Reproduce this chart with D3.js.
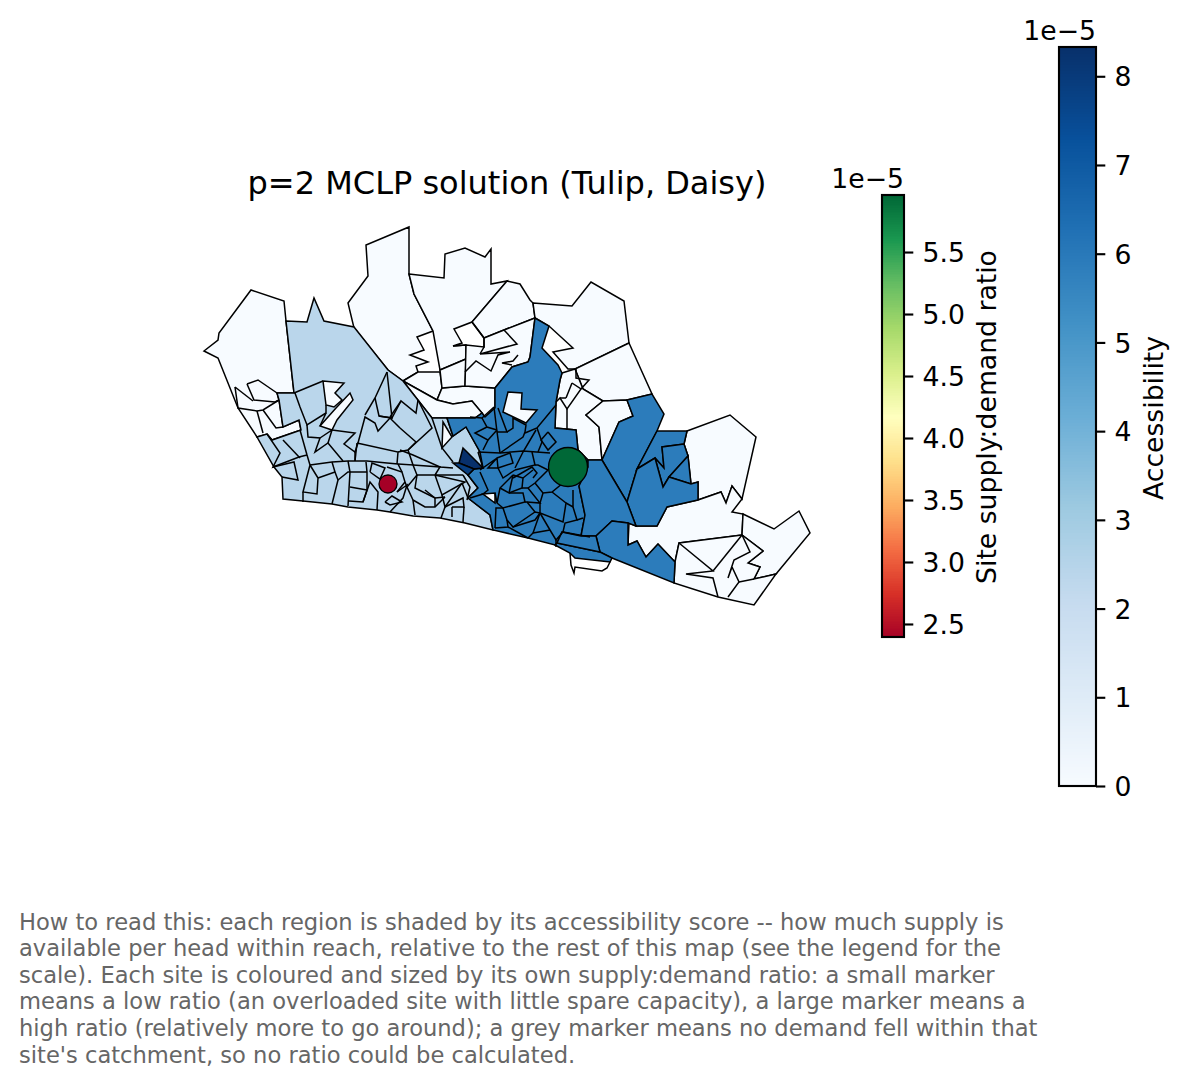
<!DOCTYPE html>
<html>
<head>
<meta charset="utf-8">
<script src="https://cdn.jsdelivr.net/npm/d3@7"></script>
<style>
body { margin: 0; background: #fff; }
text { font-family: "DejaVu Sans"; }
</style>
</head>
<body>
<div id="chart"></div>
<script>
// accessibility per region (in 1e-5) and the region outlines, in map units
var LOW = 0, WEST = 2.4, EAST = 5.9;
var regionValues = [
	LOW, LOW, LOW, LOW, LOW, LOW, LOW, LOW, LOW, LOW, LOW, LOW, LOW, LOW, LOW, LOW, LOW,
	WEST, EAST, EAST, EAST, EAST, EAST, EAST, EAST, EAST, EAST, EAST,
	LOW, LOW, LOW, LOW, LOW, 8.34, 7.9
];
var regionRings = [
	// west
	[[204,351],[218,340],[219,333],[251,290],[284,301],[286,321],[294,393],[277,393],[279,400],[283,427],[299,420],[301,430],[272,440],[267,434],[257,437],[238,408],[218,358]],
	// north
	[[348,303],[368,276],[366,245],[409,227],[409,274],[414,294],[433,331],[417,337],[424,350],[410,355],[428,362],[416,366],[418,372],[403,381],[388,370],[354,328]],
	[[409,274],[444,278],[445,254],[465,248],[485,257],[491,249],[491,284],[507,281],[472,322],[454,329],[462,343],[453,346],[466,345],[466,359],[440,370],[433,331],[414,294]],
	[[507,281],[520,284],[530,300],[533,303],[535,318],[504,330],[484,338],[472,322]],
	[[533,303],[572,306],[591,282],[624,301],[629,343],[575,369],[568,369],[553,352],[573,348],[549,326],[535,318]],
	[[629,343],[652,394],[627,400],[603,401],[583,389],[575,369]],
	[[403,381],[418,372],[440,372],[442,388],[437,400]],
	[[437,400],[442,388],[465,386],[495,388],[495,408],[485,417],[482,413],[472,401],[453,404]],
	[[440,370],[466,359],[465,386],[442,388]],
	[[466,345],[484,347],[484,338],[504,330],[535,318],[530,357],[528,362],[512,367],[495,388],[465,386]],
	[[403,381],[437,400],[453,404],[472,401],[482,413],[475,418],[447,418],[432,418]],
	// east side
	[[562,373],[575,369],[583,389],[603,401],[586,415],[599,427],[602,460],[588,460],[578,450],[576,430],[555,428],[556,402],[560,380]],
	[[603,401],[627,400],[633,416],[619,422],[602,460],[599,427],[586,415]],
	[[687,431],[730,415],[756,437],[742,499],[732,486],[726,503],[721,492],[698,500],[698,482],[691,484],[688,456],[684,444]],
	[[698,500],[721,492],[726,503],[732,486],[742,499],[732,512],[743,514],[742,535],[679,543],[675,562],[658,544],[646,557],[637,541],[628,545],[629,523],[636,526],[657,526],[667,507]],
	[[743,514],[774,529],[799,511],[810,533],[776,574],[754,579],[760,567],[748,563],[763,551],[742,535]],
	[[679,543],[742,535],[763,551],[748,563],[760,567],[754,579],[776,574],[754,605],[718,597],[674,583],[675,562]],
	// light blue west and south
	[[286,321],[307,322],[314,298],[324,321],[354,327],[388,370],[403,381],[432,418],[447,418],[453,436],[466,427],[480,452],[483,468],[474,469],[468,475],[478,488],[468,498],[490,515],[493,530],[465,523],[440,518],[413,516],[390,512],[377,510],[348,507],[332,504],[303,501],[283,499],[282,477],[274,467],[257,437],[267,434],[272,440],[301,430],[299,420],[283,427],[279,400],[277,393],[294,393]],
	// mid blue centre
	[[535,318],[549,326],[542,348],[558,365],[562,373],[560,380],[556,402],[555,428],[576,430],[578,450],[588,460],[588,467],[579,486],[585,515],[581,536],[562,532],[557,543],[555,545],[528,538],[493,530],[490,515],[468,498],[478,488],[468,475],[474,469],[483,468],[480,452],[466,427],[453,436],[447,418],[475,418],[482,413],[485,417],[495,408],[495,388],[512,367],[528,362],[530,357]],
	[[627,400],[652,394],[664,414],[657,431],[637,469],[627,502],[602,460],[619,422],[633,416]],
	[[657,431],[687,431],[684,444],[662,447],[664,468],[655,458],[637,469]],
	[[684,444],[688,456],[669,477],[663,487],[655,458],[664,468],[662,447]],
	[[688,456],[691,484],[669,477]],
	[[637,469],[655,458],[663,487],[669,477],[691,484],[698,482],[698,500],[667,507],[657,526],[636,526],[627,502]],
	[[588,460],[602,460],[627,502],[636,526],[628,523],[612,521],[596,536],[581,536],[585,515],[579,486],[588,467]],
	[[596,536],[612,521],[628,523],[628,545],[637,541],[646,557],[658,544],[675,562],[674,583],[612,558],[600,552]],
	[[557,543],[600,552],[612,558],[610,562],[575,558],[570,553],[555,545]],
	[[562,532],[581,536],[596,536],[600,552],[557,543]],
	// holes and island
	[[508,392],[522,393],[521,409],[537,410],[526,423],[503,412]],
	[[483,494],[495,493],[495,503]],
	[[323,381],[344,383],[335,393],[342,400],[334,407],[326,405]],
	[[320,426],[336,408],[350,393],[353,400],[337,420],[332,430]],
	[[443,422],[452,437],[442,448]],
	// darkest pair
	[[463,448],[483,468],[474,469],[459,463]],
	[[453,463],[459,463],[474,469],[468,475]]
];
// ward boundaries inside the zones
var wardLines = [
	[[247,384],[258,380],[277,393]], [[247,384],[254,400],[275,402],[279,400]], [[235,387],[253,401]], [[235,387],[238,408],[257,411],[263,410],[279,400]], [[257,411],[263,433]], [[263,410],[276,428],[283,427]],
	[[466,345],[453,346]], [[472,322],[484,338]], [[504,330],[517,344],[480,354],[510,352],[498,355],[491,371],[476,361],[465,372]], [[518,355],[513,361],[502,363],[512,365]], [[484,338],[484,347],[480,354]],
	[[572,383],[581,389],[567,409],[560,398],[556,402]], [[576,369],[576,378],[589,380],[581,389]], [[572,383],[566,398]], [[567,409],[567,430]], [[566,398],[560,398]],
	[[679,543],[713,571],[686,574],[713,578],[718,597]], [[742,535],[713,571]], [[742,535],[750,552],[734,560],[728,578],[732,567],[739,582],[728,597]], [[739,582],[754,579]],
	[[570,553],[571,565],[574,573],[575,567],[602,571],[607,568],[610,562]],
	// light blue zone
	[[294,393],[323,381]], [[295,393],[300,407],[307,425],[326,413],[326,405]], [[300,430],[307,455]], [[267,434],[280,453],[273,467],[299,457],[307,455]], [[283,440],[300,458]], [[273,467],[294,462],[298,480],[282,477]],
	[[307,455],[310,465],[303,492],[317,494],[318,478],[310,465]], [[303,492],[303,502]], [[310,465],[332,462],[348,461],[367,461],[387,463],[398,464]], [[318,478],[335,472],[332,462]], [[335,472],[338,480],[332,504]], [[338,480],[348,472],[367,472]], [[348,461],[350,472],[348,506]],
	[[350,487],[367,490]], [[349,501],[363,502],[367,490],[367,472],[366,462]], [[363,502],[370,482],[378,492],[377,510]], [[370,472],[372,463],[385,468],[380,479],[370,472]], [[387,467],[402,472],[405,482],[397,492]], [[397,492],[407,485],[403,498],[390,512]], [[385,502],[392,496],[402,502],[390,505],[385,502]],
	[[357,443],[398,452],[397,464]], [[357,443],[355,461]], [[398,452],[408,450],[416,442],[400,428]], [[358,443],[365,417],[375,423],[378,431],[390,418],[400,428]],
	[[365,415],[375,398],[387,372]], [[375,398],[379,416],[392,418],[387,372]], [[392,418],[401,401],[416,413],[418,400]], [[379,416],[392,418]],
	[[307,425],[308,437],[320,438],[315,452],[328,443],[343,461]], [[320,438],[332,430],[328,443]], [[332,430],[355,433],[344,444],[355,452],[358,443]], [[355,452],[355,461]],
	[[326,413],[320,426]], [[390,417],[401,401]],
	[[418,400],[432,428],[408,450]], [[432,418],[442,448],[453,462]],
	[[400,450],[413,455],[440,467],[453,468]], [[408,450],[413,465],[398,464]], [[413,465],[440,467],[435,475]], [[413,465],[417,475],[407,487],[413,500]], [[398,464],[402,472]], [[405,482],[407,487]],
	[[417,475],[435,475],[442,495],[465,482],[435,475]], [[435,475],[463,475]], [[417,475],[415,488],[435,498],[445,497]], [[413,500],[425,507],[435,507],[445,497]], [[425,490],[435,498],[435,507]], [[413,500],[415,515]],
	[[442,495],[445,507],[462,483]], [[445,507],[463,498],[464,507],[452,507]], [[452,507],[452,517]], [[445,507],[441,518]], [[464,507],[463,522]], [[463,475],[470,487],[467,500]], [[462,483],[468,498]],
	// mid blue dense wards
	[[470,417],[482,418],[494,407]], [[482,418],[487,427],[497,430]], [[487,427],[475,433],[488,440],[483,450]], [[497,430],[488,440]], [[494,407],[497,432],[500,453]], [[498,408],[507,432],[497,432]], [[507,432],[513,428],[513,418],[526,425],[525,432],[523,437],[500,453]],
	[[556,405],[537,428],[525,433]], [[536,430],[523,452],[515,468]], [[537,428],[542,442],[538,452]], [[548,432],[556,442],[548,450],[541,440],[548,432]],
	[[478,452],[500,453],[523,451],[550,453]], [[483,468],[478,452]], [[480,470],[497,458],[498,468],[488,468],[497,458]],
	[[497,458],[510,453]], [[510,453],[513,463],[498,468],[503,478],[515,470]], [[515,470],[535,465],[532,452]], [[513,478],[532,467],[537,473],[533,478]], [[535,465],[538,465],[548,470]],
	[[480,472],[488,490],[483,494],[470,498]], [[513,475],[500,488],[497,503],[495,493]], [[513,475],[523,478],[522,488],[509,493],[500,488]], [[513,475],[509,493]], [[509,493],[523,493],[525,502],[503,508],[497,503]], [[523,478],[533,470]],
	[[522,488],[528,488],[540,503],[527,502],[525,502]], [[528,488],[535,483],[548,470]], [[535,483],[543,493],[552,492],[563,483]], [[543,493],[540,503],[540,513],[563,522],[566,503],[552,492]],
	[[566,503],[573,507],[573,490]], [[573,507],[577,520],[565,523],[563,532],[556,540],[550,530],[540,513]], [[577,520],[583,518]], [[550,530],[533,533],[540,513]], [[533,533],[528,538]], [[563,532],[590,537]], [[556,540],[556,547]],
	[[503,508],[507,520],[513,527],[535,512],[540,513]], [[513,527],[535,520],[540,513]], [[503,508],[496,508],[495,528]], [[495,528],[508,527],[507,520]], [[535,512],[527,502]], [[508,527],[528,538]]
];

// site markers
var siteNames = ['Tulip', 'Daisy'];
var siteEast = [388, 568];
var siteNorth = [484, 467];
var siteRatios = [2.395, 5.96];

// colour bars
var accessTicks = [0, 1, 2, 3, 4, 5, 6, 7, 8];
var accessMax = 8.33;
var ratioTicks = [2.5, 3.0, 3.5, 4.0, 4.5, 5.0, 5.5];
var blues = ['#f7fbff', '#deebf7', '#c6dbef', '#9ecae1', '#6baed6', '#4292c6', '#2171b5', '#08519c', '#08306b'];
var rdYlGn = ['#a50026', '#d73027', '#f46d43', '#fdae61', '#fee08b', '#ffffbf', '#d9ef8b', '#a6d96a', '#66bd63', '#1a9850', '#006837'];

var captionLines = [
	'How to read this: each region is shaded by its accessibility score -- how much supply is',
	'available per head within reach, relative to the rest of this map (see the legend for the',
	'scale). Each site is coloured and sized by its own supply:demand ratio: a small marker',
	'means a low ratio (an overloaded site with little spare capacity), a large marker means a',
	'high ratio (relatively more to go around); a grey marker means no demand fell within that',
	"site's catchment, so no ratio could be calculated."
];

var width = 1187, height = 1086;
var svg = d3.select('#chart').append('svg').attr('width', width).attr('height', height);

var mapX = d3.scaleLinear().domain([200, 815]).range([200, 815]);
var mapY = d3.scaleLinear().domain([225, 610]).range([225, 610]);
var line = d3.line().x(function (d) { return mapX(d[0]); }).y(function (d) { return mapY(d[1]); });

function stopScale(domain, colors) {
	var step = (domain[1] - domain[0]) / (colors.length - 1);
	return d3.scaleLinear().domain(colors.map(function (c, i) { return domain[0] + i * step; })).range(colors);
}
var accessColor = stopScale([0, accessMax], blues);
var ratioExtent = d3.extent(siteRatios);
var ratioColor = stopScale(ratioExtent, rdYlGn);
var ratioSize = d3.scaleLinear().domain(ratioExtent).range([9, 19.5]);

svg.append('text').attr('x', 507).attr('y', 194).attr('text-anchor', 'middle')
	.attr('font-size', 32).text('p=2 MCLP solution (Tulip, Daisy)');

var map = svg.append('g');
map.selectAll('.region').data(regionRings).enter().append('path')
	.attr('class', 'region')
	.attr('d', function (d) { return line(d) + 'Z'; })
	.attr('fill', function (d, i) { return accessColor(regionValues[i]); })
	.attr('stroke', '#000').attr('stroke-width', 1.5).attr('stroke-linejoin', 'miter');
map.selectAll('.ward').data(wardLines).enter().append('path')
	.attr('class', 'ward')
	.attr('d', line)
	.attr('fill', 'none')
	.attr('stroke', '#000').attr('stroke-width', 1.5);

svg.selectAll('.site').data(siteNames).enter().append('circle')
	.attr('class', 'site')
	.attr('cx', function (d, i) { return mapX(siteEast[i]); })
	.attr('cy', function (d, i) { return mapY(siteNorth[i]); })
	.attr('r', function (d, i) { return ratioSize(siteRatios[i]); })
	.attr('fill', function (d, i) { return ratioColor(siteRatios[i]); })
	.attr('stroke', '#000').attr('stroke-width', 1.33);

function colorbar(opts) {
	var y = d3.scaleLinear().domain(opts.domain).range([opts.bottom, opts.top]);
	var g = svg.append('g');
	var steps = d3.range(0, 256);
	var dy = (opts.bottom - opts.top) / 256;
	g.selectAll('rect').data(steps).enter().append('rect')
		.attr('x', opts.left).attr('width', opts.right - opts.left)
		.attr('y', function (d) { return opts.bottom - (d + 1) * dy; })
		.attr('height', dy + 1)
		.attr('shape-rendering', 'crispEdges')
		.attr('fill', function (d) { return opts.color(opts.domain[0] + (d + 0.5) / 256 * (opts.domain[1] - opts.domain[0])); });
	g.append('rect').attr('x', opts.left).attr('y', opts.top)
		.attr('width', opts.right - opts.left).attr('height', opts.bottom - opts.top)
		.attr('fill', 'none').attr('stroke', '#000').attr('stroke-width', 2.13);
	var axis = d3.axisRight(y).tickValues(opts.ticks).tickSize(9.3).tickPadding(9.3).tickFormat(d3.format(opts.format));
	var ag = g.append('g').attr('transform', 'translate(' + opts.right + ',0)').call(axis);
	ag.select('.domain').remove();
	ag.selectAll('line').attr('stroke', '#000').attr('stroke-width', 2.13);
	ag.selectAll('text').attr('font-size', 26.67).attr('font-family', 'DejaVu Sans').attr('fill', '#000').attr('dy', '0.36em');
	svg.append('text').attr('x', opts.right).attr('y', opts.top - 7)
		.attr('text-anchor', 'end').attr('font-size', 26.67).text('1e\u22125');
	svg.append('text').attr('transform', 'translate(' + opts.labelX + ',' + ((opts.top + opts.bottom) / 2 + opts.labelShift) + ') rotate(-90)')
		.attr('text-anchor', 'middle').attr('font-size', 26.67).text(opts.label);
}
colorbar({ domain: [0, accessMax], color: accessColor, ticks: accessTicks, format: 'd', left: 1059, right: 1096, top: 47, bottom: 786, label: 'Accessibility', labelX: 1163, labelShift: 1.5 });
colorbar({ domain: ratioExtent, color: ratioColor, ticks: ratioTicks, format: '.1f', left: 882, right: 904, top: 195, bottom: 637, label: 'Site supply:demand ratio', labelX: 996, labelShift: 1 });

svg.selectAll('.caption').data(captionLines).enter().append('text')
	.attr('class', 'caption')
	.attr('x', 19)
	.attr('y', function (d, i) { return 929.5 + i * 26.6; })
	.attr('font-size', 22.6).attr('fill', '#666').text(function (d) { return d; });
</script>
</body>
</html>
